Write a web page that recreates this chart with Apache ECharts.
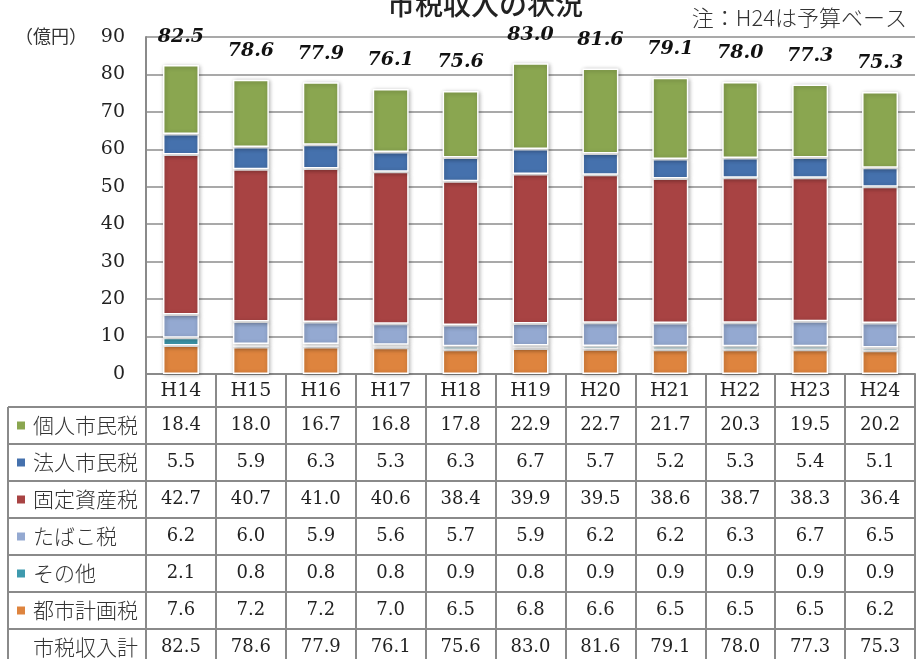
<!DOCTYPE html>
<html>
<head>
<meta charset="utf-8">
<script src="https://cdn.jsdelivr.net/npm/echarts@6/dist/echarts.min.js"></script>
<style>
  html, body { margin: 0; padding: 0; background: #fff; }
  #chart { width: 920px; height: 659px; }
</style>
</head>
<body>
<div id="chart"></div>
<script>
// 年度
const categories = ['H14', 'H15', 'H16', 'H17', 'H18', 'H19', 'H20', 'H21', 'H22', 'H23', 'H24'];

// 税目別の市税収入（億円）
const kojinShimin = [18.4, 18.0, 16.7, 16.8, 17.8, 22.9, 22.7, 21.7, 20.3, 19.5, 20.2];
const hojinShimin = [5.5, 5.9, 6.3, 5.3, 6.3, 6.7, 5.7, 5.2, 5.3, 5.4, 5.1];
const koteiShisan = [42.7, 40.7, 41.0, 40.6, 38.4, 39.9, 39.5, 38.6, 38.7, 38.3, 36.4];
const tabako      = [6.2, 6.0, 5.9, 5.6, 5.7, 5.9, 6.2, 6.2, 6.3, 6.7, 6.5];
const sonota      = [2.1, 0.8, 0.8, 0.8, 0.9, 0.8, 0.9, 0.9, 0.9, 0.9, 0.9];
const toshiKeikaku = [7.6, 7.2, 7.2, 7.0, 6.5, 6.8, 6.6, 6.5, 6.5, 6.5, 6.2];
const totals      = [82.5, 78.6, 77.9, 76.1, 75.6, 83.0, 81.6, 79.1, 78.0, 77.3, 75.3];

// 縦軸目盛
const yTicks = [0, 10, 20, 30, 40, 50, 60, 70, 80, 90];

// 積み上げ順（下から）
const stackSeries = [
  { name: '都市計画税', data: toshiKeikaku, color: '#DE843E' },
  { name: 'その他',     data: sonota,       color: '#3E9AAE' },
  { name: 'たばこ税',   data: tabako,       color: '#94A9D1' },
  { name: '固定資産税', data: koteiShisan,  color: '#A84343' },
  { name: '法人市民税', data: hojinShimin,  color: '#4571AD' },
  { name: '個人市民税', data: kojinShimin,  color: '#8AA650' }
];

// 表の行（上から）
const tableRows = [
  { name: '個人市民税', data: kojinShimin, color: '#8AA650' },
  { name: '法人市民税', data: hojinShimin, color: '#4571AD' },
  { name: '固定資産税', data: koteiShisan, color: '#A84343' },
  { name: 'たばこ税',   data: tabako,      color: '#94A9D1' },
  { name: 'その他',     data: sonota,      color: '#3E9AAE' },
  { name: '都市計画税', data: toshiKeikaku, color: '#DE843E' },
  { name: '市税収入計', data: totals,      color: null }
];

const W = 920, H = 659;
const GRID = { left: 146, right: 5, top: 37, bottom: 285 };
const plotBottom = H - GRID.bottom;     // 374
const headerH = 33;
const rowH = 37;
const tableLeft = 8;
const tableRight = W - GRID.right;
const lineColor = '#8a8a8a';
const serif = 'DejaVu Serif, Liberation Serif, serif';
const cjk = '"Noto Sans CJK JP", "Noto Sans", sans-serif';

const chart = echarts.init(document.getElementById('chart'));

// 表の数値は行ごとのカテゴリ軸ラベルで描く
const rowAxes = tableRows.map((row, i) => ({
  type: 'category',
  gridIndex: 0,
  position: 'bottom',
  data: categories,
  axisLine: { show: false },
  axisTick: { show: false },
  splitLine: { show: false },
  axisLabel: {
    interval: 0,
    margin: headerH + rowH * i + rowH / 2 - 9,
    fontFamily: serif,
    fontSize: 18,
    color: '#222',
    formatter: (v, idx) => row.data[idx].toFixed(1)
  }
}));

const graphics = [];
// 表の横罫線
for (let i = 0; i <= tableRows.length; i++) {
  const y = plotBottom + headerH + rowH * i;
  graphics.push({
    type: 'line', silent: true,
    shape: { x1: tableLeft, y1: y, x2: tableRight, y2: y },
    style: { stroke: lineColor, lineWidth: 2 }
  });
}
// 表の左罫線
graphics.push({
  type: 'line', silent: true,
  shape: { x1: tableLeft, y1: plotBottom + headerH, x2: tableLeft, y2: H + 2 },
  style: { stroke: lineColor, lineWidth: 2 }
});
// 行見出し
tableRows.forEach((row, i) => {
  const cy = plotBottom + headerH + rowH * i + rowH / 2;
  if (row.color) {
    graphics.push({
      type: 'rect', silent: true,
      shape: { x: 17, y: cy - 4, width: 8, height: 8 },
      style: { fill: row.color }
    });
  }
  graphics.push({
    type: 'text', silent: true,
    x: 33, y: cy,
    style: {
      text: row.name, fontFamily: cjk, fontSize: 21, fontWeight: 300, fill: '#333',
      verticalAlign: 'middle', align: 'left'
    }
  });
});
// タイトル・注記・単位
graphics.push({
  type: 'text', silent: true, x: 485, y: 4,
  style: { text: '市税収入の状況', fontFamily: cjk, fontSize: 28, fontWeight: 500,
           fill: '#222', align: 'center', verticalAlign: 'middle' }
});
graphics.push({
  type: 'text', silent: true, x: 907, y: 18,
  style: { text: '注：H24は予算ベース', fontFamily: cjk, fontSize: 22, fontWeight: 300,
           fill: '#333', align: 'right', verticalAlign: 'middle' }
});
graphics.push({
  type: 'text', silent: true, x: 15, y: 36,
  style: { text: '（億円）', fontFamily: cjk, fontSize: 18,
           fill: '#333', align: 'left', verticalAlign: 'middle' }
});

const series = stackSeries.map((s, i) => {
  const isTop = i === stackSeries.length - 1;
  return {
    name: s.name,
    type: 'bar',
    stack: 'total',
    barWidth: 36,
    data: s.data,
    itemStyle: {
      color: s.color,
      borderColor: '#fff',
      borderWidth: 1.5,
      shadowBlur: 4,
      shadowColor: 'rgba(0,0,0,0.3)',
      shadowOffsetX: 1,
      shadowOffsetY: 1
    },
    label: isTop ? {
      show: true,
      position: 'top',
      distance: 19,
      fontFamily: serif,
      fontSize: 19,
      fontWeight: 'bold',
      fontStyle: 'italic',
      color: '#111',
      formatter: p => totals[p.dataIndex].toFixed(1)
    } : { show: false },
    emphasis: { disabled: true }
  };
});

chart.setOption({
  animation: false,
  backgroundColor: '#fff',
  grid: GRID,
  xAxis: [{
    type: 'category',
    data: categories,
    position: 'bottom',
    axisLine: { show: true, lineStyle: { color: lineColor, width: 2 } },
    axisTick: { show: true, alignWithLabel: false, length: H - plotBottom + 2,
                lineStyle: { color: lineColor, width: 2 } },
    axisLabel: { interval: 0, margin: 8, fontFamily: serif, fontSize: 19, color: '#222' },
    splitLine: { show: false }
  }].concat(rowAxes),
  yAxis: {
    type: 'value',
    min: yTicks[0],
    max: yTicks[yTicks.length - 1],
    interval: 10,
    axisLine: { show: true, lineStyle: { color: lineColor, width: 2 } },
    axisTick: { show: false },
    axisLabel: { margin: 21, fontFamily: serif, fontSize: 19, color: '#222' },
    splitLine: { show: true, lineStyle: { color: '#8c8c8c', width: 1.5 } }
  },
  series: series,
  graphic: graphics
});
</script>
</body>
</html>
